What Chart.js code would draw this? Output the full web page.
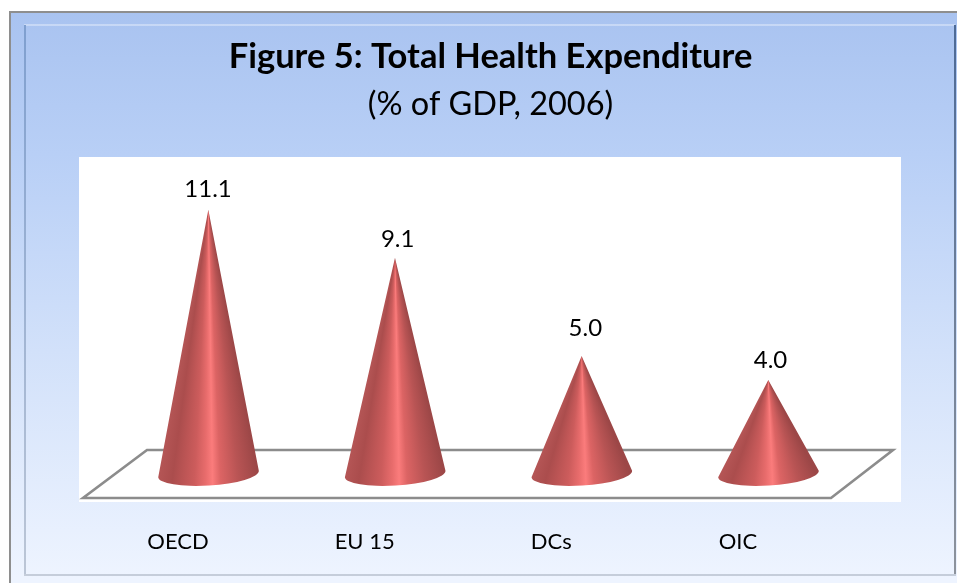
<!DOCTYPE html>
<html>
<head>
<meta charset="utf-8">
<style>
html,body{margin:0;padding:0;background:#fff;overflow:hidden}
#wrap{position:relative;width:957px;height:583px}
canvas{display:block}
</style>
<script src="https://cdn.jsdelivr.net/npm/chart.js@4/dist/chart.umd.js"></script>
</head>
<body>
<div id="wrap"><canvas id="c" width="957" height="583"></canvas></div>
<script>
const categories = ["OECD", "EU 15", "DCs", "OIC"];
const healthExpenditure = [11.1, 9.1, 5.0, 4.0];
const titleText = "Figure 5: Total Health Expenditure";
const subtitleText = "(% of GDP, 2006)";

const FONT = "Lato, Carlito, Calibri, sans-serif";
const LABEL_DX = [0, 3, 4, 2.5];
const LABEL_DY = [-20, -18, -28, -20];
const SHADE = [[0,"#b45555"],[0.14,"#ab4d4d"],[0.36,"#cc5c5c"],[0.47,"#e86c6c"],[0.54,"#fb7c7c"],[0.62,"#dc6464"],[0.8,"#b85454"],[1,"#9c4747"]];

const backdrop = {
  id:"backdrop",
  beforeDraw(chart){
    const g=chart.ctx, W=chart.width, H=chart.height;
    g.save();
    g.fillStyle="#fff"; g.fillRect(0,0,W,H);
    const grad=g.createLinearGradient(0,12,0,578);
    grad.addColorStop(0,"#a9c3f0");
    grad.addColorStop(0.25,"#b8cff6");
    grad.addColorStop(0.6,"#d2e1fa");
    grad.addColorStop(1,"#eef4ff");
    g.fillStyle=grad; g.fillRect(11,12,W-11,H-12);
    // outer frame
    g.fillStyle="#8e8e8e";
    g.fillRect(9,11,W-9,2); g.fillRect(9,11,2,H-11);
    // inner bevel
    g.fillStyle="rgba(255,255,255,0.35)"; g.fillRect(24,24,931,2);
    const l=g.createLinearGradient(0,24,0,575);
    l.addColorStop(0,"#7f9fcf"); l.addColorStop(1,"#bcc6d6");
    g.fillStyle=l; g.fillRect(24,25,2,550);
    const r=g.createLinearGradient(0,24,0,575);
    r.addColorStop(0,"#4d6a96"); r.addColorStop(1,"#8d939c");
    g.fillStyle=r; g.fillRect(954,25,2,550);
    g.fillStyle="#c5cdda"; g.fillRect(24,574,932,2);
    // white plot panel
    g.fillStyle="#fff"; g.fillRect(79,157,822,345);
    // floor
    g.strokeStyle="#8c8c8c"; g.lineWidth=2.6; g.lineJoin="miter";
    g.beginPath(); g.moveTo(147,450); g.lineTo(893,450); g.lineTo(831,498); g.lineTo(83,498); g.closePath(); g.stroke();
    g.restore();
  }
};

const cones = {
  id:"cones",
  afterDatasetsDraw(chart){
    const g=chart.ctx, meta=chart.getDatasetMeta(0);
    meta.data.forEach((el,idx)=>{
      const rx=el.width/2, ry=11.5, rot=-3.6*Math.PI/180;
      const cx=el.x+0.5, cy=el.base-2, tipX=el.x+0.3, tipY=el.y;
      // shading fans out from the tip
      const fill=g.createConicGradient(0,tipX,tipY);
      SHADE.slice().reverse().forEach(s=>{
        const a=Math.atan2(cy+6-tipY,(cx-rx+2*rx*s[0])-tipX);
        fill.addColorStop(a/(2*Math.PI),s[1]);
      });
      g.save();
      g.beginPath(); g.moveTo(tipX,tipY);
      g.ellipse(cx,cy,rx,ry,rot,Math.PI,0,true);
      g.closePath();
      g.fillStyle=fill; g.fill();
      g.restore();
      // value label
      g.save();
      g.fillStyle="#000"; g.font="24px "+FONT; g.textAlign="center"; g.textBaseline="middle";
      g.fillText(healthExpenditure[idx].toFixed(1), el.x+LABEL_DX[idx], el.y+LABEL_DY[idx]);
      g.restore();
    });
  }
};

new Chart(document.getElementById("c"),{
  type:"bar",
  data:{labels:categories,datasets:[{data:healthExpenditure,backgroundColor:"rgba(0,0,0,0)",borderWidth:0,barPercentage:0.54,categoryPercentage:1}]},
  options:{
    responsive:false,animation:false,
    devicePixelRatio:1,
    layout:{padding:{left:24,right:0,top:0,bottom:0}},
    plugins:{
      legend:{display:false},tooltip:{enabled:false},
      title:{display:true,text:titleText,color:"#000",font:{family:FONT,size:34.5,weight:"bold",lineHeight:1.2},padding:{top:36,bottom:8}},
      subtitle:{display:true,text:subtitleText,color:"#000",font:{family:FONT,size:32.5,weight:"normal",lineHeight:1.2},padding:{top:0,bottom:32.5}}
    },
    scales:{
      x:{
        grid:{display:false},border:{display:false},
        ticks:{color:"#000",font:{family:FONT,size:22},padding:45,labelOffset:-30,maxRotation:0,autoSkip:false},
        afterFit(s){s.height=107;}
      },
      y:{
        min:0,max:13.3,
        grid:{display:false},border:{display:false},
        ticks:{display:false},
        afterFit(s){s.width=90.7;}
      },
      yr:{
        position:"right",display:true,min:0,max:1,
        grid:{display:false},border:{display:false},
        ticks:{display:false},
        afterFit(s){s.width=95.7;}
      }
    }
  },
  plugins:[backdrop,cones]
});
</script>
</body>
</html>
